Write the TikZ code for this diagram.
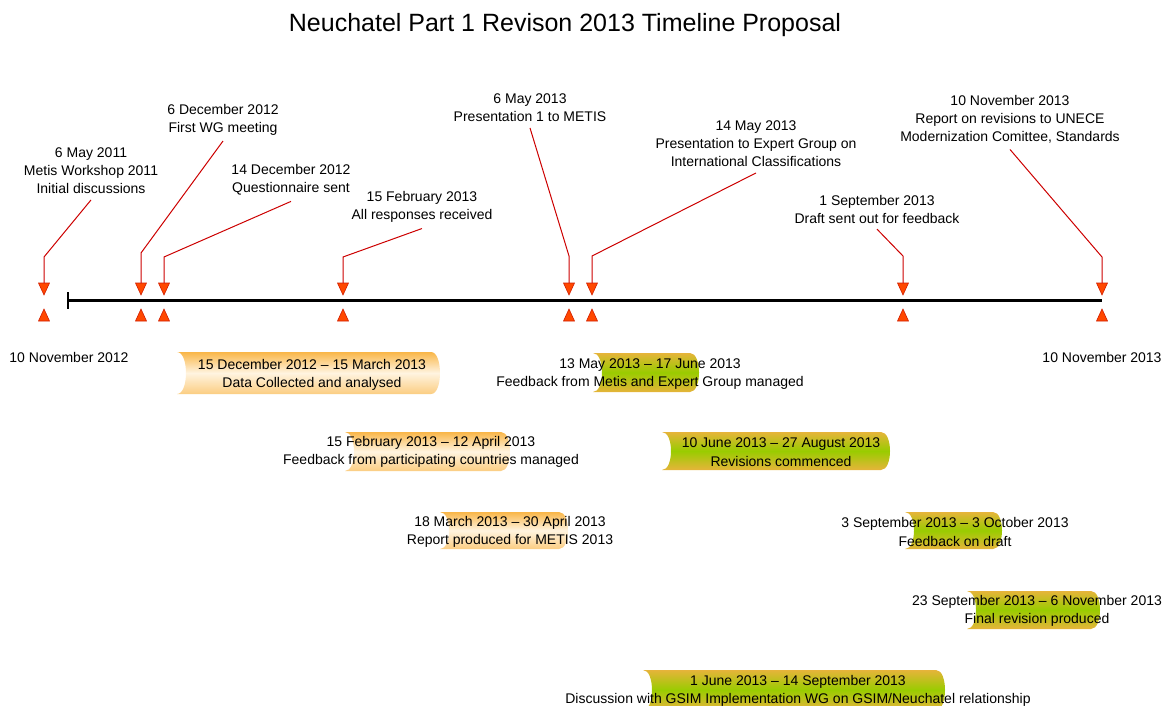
\documentclass[tikz,border=0pt]{standalone}
\usepackage{fontspec}
\setmainfont{Liberation Sans}
\definecolor{trired}{RGB}{255,72,0}
\definecolor{triedge}{RGB}{210,30,0}
\definecolor{callred}{RGB}{204,0,0}
\definecolor{orT}{RGB}{249,182,72}
\definecolor{orM}{RGB}{255,244,224}
\definecolor{orB}{RGB}{251,205,130}
\definecolor{grT}{RGB}{230,180,58}
\definecolor{grM}{RGB}{153,204,0}
\definecolor{grB}{RGB}{230,180,58}
\newcommand\tlbar[5]{%
  \shade[#1] (#2,#4) -- ({#3-9},#4) .. controls ({#3+3},#4) and ({#3+3},#5) .. ({#3-9},#5)
    -- (#2,#5) .. controls ({#2+12},#5) and ({#2+12},#4) .. (#2,#4) -- cycle;}
\begin{document}
\begin{tikzpicture}[x=1pt,y=-1pt,
  lbl/.style={font=\fontsize{14}{18}\selectfont, align=center, inner sep=0pt, outer ysep=6pt},
  bartext/.style={font=\fontsize{14}{18.5}\selectfont, align=center, inner sep=0pt},
  callout/.style={draw=callred, line width=1pt},
  trishape/.style={fill=trired, draw=triedge, line width=0.6pt, line join=miter},
  orangebar/.style={top color=orT, bottom color=orB, middle color=orM},
  greenbar/.style={top color=grT, bottom color=grB, middle color=grM}]
\useasboundingbox (0,0) rectangle (1164,706);

% title
\node[font=\fontsize{25}{30}\selectfont, inner sep=0pt] (title) at (565,25) {Neuchatel Part 1 Revison 2013 Timeline Proposal};

% timeline
\coordinate (tl0) at (68,300);
\coordinate (tl1) at (1102,300);
\draw[line width=3pt] (tl0) -- (tl1);
\draw[line width=1.2pt] (68,292) -- (68,309);

% triangles
\foreach \i/\x in {1/44,2/141,3/164,4/343,5/569,6/592,7/903,8/1102}{
  \coordinate (d\i) at (\x,283);
  \filldraw[trishape] (d\i) -- ++(-5.5,0) -- ++(5.5,12) -- ++(5.5,-12) -- cycle;
  \filldraw[trishape] (\x,321) -- ++(-5.5,0) -- ++(5.5,-12) -- ++(5.5,12) -- cycle;
}

% end labels
\node[lbl] (start) at (69,357) {10 November 2012};
\node[lbl] (end) at (1102,357) {10 November 2013};

% milestone labels
\node[lbl] (l1) at (91,171) {6 May 2011\\Metis Workshop 2011\\Initial discussions};
\node[lbl] (l2) at (223,119.5) {6 December 2012\\First WG meeting};
\node[lbl] (l3) at (291,180) {14 December 2012\\Questionnaire sent};
\node[lbl] (l4) at (422,207) {15 February 2013\\All responses received};
\node[lbl] (l5) at (530,108) {6 May 2013\\Presentation 1 to METIS};
\node[lbl] (l6) at (756,144) {14 May 2013\\Presentation to Expert Group on\\International Classifications};
\node[lbl] (l7) at (877,209) {1 September 2013\\Draft sent out for feedback};
\node[lbl] (l8) at (1010,119.5) {10 November 2013\\Report on revisions to UNECE\\Modernization Comittee, Standards};

% bends
\coordinate (k1) at (44,257);
\coordinate (k2) at (141,253);
\coordinate (k3) at (164,257);
\coordinate (k4) at (343,257);
\coordinate (k5) at (569,256);
\coordinate (k6) at (592,256);
\coordinate (k7) at (903,256);
\coordinate (k8) at (1102,257);
\foreach \i in {1,...,8}{
  \draw[callout] (l\i.south) -- (k\i) -- (d\i);
}

% bars
\tlbar{orangebar}{177}{440}{352}{394}
\tlbar{greenbar}{593}{699}{353}{392}
\tlbar{orangebar}{345}{510}{432}{471}
\tlbar{greenbar}{662}{890}{432}{470}
\tlbar{orangebar}{440}{568}{512}{549}
\tlbar{greenbar}{905}{1002}{512}{549}
\tlbar{greenbar}{967}{1100}{591}{629}
\tlbar{greenbar}{643}{945}{670}{710}

\node[bartext] (b1) at (312,375) {15 December 2012 -- 15 March 2013\\Data Collected and analysed};
\node[bartext] (b2) at (650,374) {13 May 2013 -- 17 June 2013\\Feedback from Metis and Expert Group managed};
\node[bartext] (b3) at (431,452) {15 February 2013 -- 12 April 2013\\Feedback from participating countries managed};
\node[bartext] (b4) at (781,452) {10 June 2013 -- 27 August 2013\\Revisions commenced};
\node[bartext] (b5) at (510,532) {18 March 2013 -- 30 April 2013\\Report produced for METIS 2013};
\node[bartext] (b6) at (955,532) {3 September 2013 -- 3 October 2013\\Feedback on draft};
\node[bartext] (b7) at (1037,611) {23 September 2013 -- 6 November 2013\\Final revision produced};
\node[bartext] (b8) at (798,691) {1 June 2013 -- 14 September 2013\\Discussion with GSIM Implementation WG on GSIM/Neuchatel relationship};
\end{tikzpicture}
\end{document}
